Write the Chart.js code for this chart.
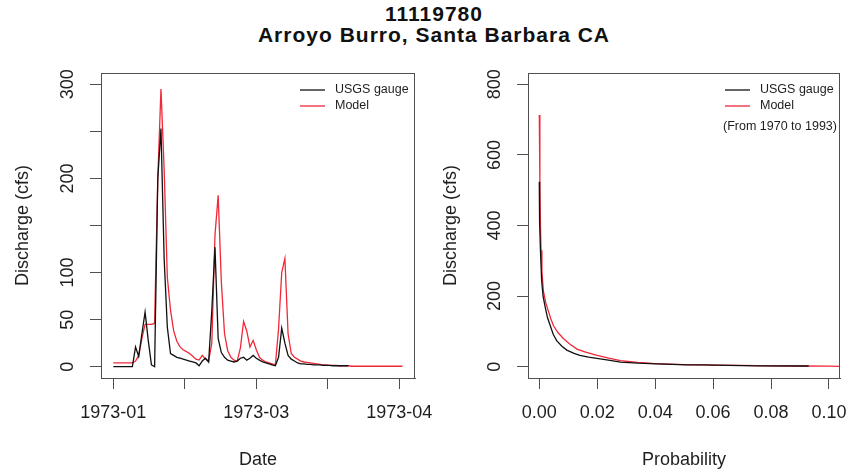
<!DOCTYPE html>
<html>
<head>
<meta charset="utf-8">
<script src="https://cdn.jsdelivr.net/npm/chart.js@4.4.0/dist/chart.umd.min.js"></script>
<style>
  body { margin: 0; background: #fff; width: 851px; height: 475px; overflow: hidden; position: relative; font-family: 'Liberation Sans', Arial, sans-serif; }
  .titulo { position: absolute; left: 0; width: 868px; text-align: center; font-weight: bold; font-size: 21px; line-height: 21px; letter-spacing: 1px; color: #111; }
  canvas { position: absolute; top: 60px; }
</style>
</head>
<body>
<div class="titulo" style="top:3px">11119780</div>
<div class="titulo" style="top:24px">Arroyo Burro, Santa Barbara CA</div>
<canvas id="myChart" width="445" height="415" style="left:0"></canvas>
<canvas id="myChart2" width="426" height="415" style="left:425px"></canvas>
<script>
// Dados

// vazão diária a partir de 1973-01-01 (dia 0)
const gaugeDaily = [0, 0, 0, 0, 0, 0, 0, 21, 11, 35, 58, 28, 2, 0, 200, 253, 115, 42, 14, 12,
  10, 9, 8, 7, 6, 5, 4, 1, 6, 9, 5, 60, 127, 30, 15, 10, 7, 6, 5, 6,
  9, 10, 7, 9, 12, 9, 7, 5, 4, 3, 2, 1, 10, 41, 25, 12, 8, 6, 4, 3,
  3, 2.5, 2.5, 2, 2, 2, 1.5, 1.5, 1.5, 1, 1, 1, 1, 1, 1];
const modelDaily = [4, 4, 4, 4, 4, 4, 4, 6, 12, 30, 45, 45, 45, 46, 200, 295, 210, 95, 60, 38,
  27, 21, 18, 16, 14, 11, 8, 7, 12, 8, 6, 25, 140, 182, 90, 35, 17, 10, 7, 6,
  20, 48, 38, 21, 28, 18, 10, 7, 5, 4, 3, 2, 40, 100, 115, 35, 14, 10, 8, 6,
  5, 4.5, 4, 3.5, 3, 2.5, 2, 2, 1.5, 1.5, 1.5, 1, 1, 1, 1, 0.5, 0.5, 0.5, 0.5, 0.5,
  0.5, 0.5, 0.5, 0.5, 0.5, 0.5, 0.5, 0.5, 0.5, 0.5, 0.5, 0.5];
const dateTicks = [0, 22.5, 45, 67.5, 90];
const dateTickLabels = ['1973-01', '', '1973-03', '', '1973-04'];
const qTicksLeft = [0, 50, 100, 150, 200, 250, 300];
const qTickLabelsLeft = ['0', '50', '100', '', '200', '', '300'];

// curva de permanência (1970 a 1993)
const probGauge = [0, 0.0001, 0.0004, 0.0008, 0.0013, 0.002, 0.0028, 0.0037, 0.0048, 0.006, 0.0078, 0.0095,
  0.012, 0.014, 0.017, 0.021, 0.025, 0.028, 0.034, 0.0405, 0.051, 0.057, 0.065, 0.075, 0.093];
const qGauge = [524, 411, 330, 246, 200, 170, 140, 118, 92, 74, 58, 47,
  38, 32, 27, 22, 17, 13, 10, 8, 5, 5, 4, 2.5, 2];
const probModel = [0, 0.0002, 0.0004, 0.0006, 0.0009, 0.0014, 0.0022, 0.0031, 0.004, 0.0049, 0.0065, 0.0083, 0.0105,
  0.013, 0.016, 0.02, 0.024, 0.028, 0.034, 0.04, 0.05, 0.06, 0.07, 0.08, 0.09, 0.1, 0.104];
const qModel = [713, 520, 400, 330, 270, 215, 182, 158, 135, 116, 96, 80, 64,
  50, 41, 32, 24, 17, 12, 9, 6, 4.5, 3.5, 2.5, 2, 1.5, 1];
const probTicks = [0, 0.02, 0.04, 0.06, 0.08, 0.1];
const probTickLabels = ['0.00', '0.02', '0.04', '0.06', '0.08', '0.10'];
const qTicksRight = [0, 200, 400, 600, 800];
const qTickLabelsRight = ['0', '200', '400', '600', '800'];

const FONT = "'Liberation Sans', Arial, sans-serif";
const TEXT = '#1e1e1e';
const AXIS = '#505050';

// moldura + legenda estilo R
const rStyle = {
  id: 'rStyle',
  afterDatasetsDraw(chart, args, opts) {
    const {ctx, chartArea: a} = chart;
    ctx.save();
    ctx.strokeStyle = AXIS;
    ctx.lineWidth = 1;
    ctx.strokeRect(a.left + 0.5, a.top + 0.5, a.width - 1, a.height);
    ctx.font = '12.5px ' + FONT;
    ctx.textBaseline = 'middle';
    chart.data.datasets.forEach((ds, i) => {
      const y = a.top + 17 + i * 16;
      ctx.strokeStyle = ds.borderColor;
      ctx.lineWidth = 1.3;
      ctx.beginPath();
      ctx.moveTo(a.right - 115, y);
      ctx.lineTo(a.right - 90, y);
      ctx.stroke();
      ctx.fillStyle = TEXT;
      ctx.textAlign = 'left';
      ctx.fillText(ds.label, a.right - 80, y);
    });
    if (opts.note) {
      ctx.textAlign = 'center';
      ctx.fillText(opts.note, a.right - 60, a.top + 54);
    }
    ctx.restore();
  }
};

function xAxis(min, max, ticks, labels, title, height) {
  return {
    type: 'linear', min: min, max: max,
    afterBuildTicks: s => { s.ticks = ticks.map(v => ({value: v})); },
    afterFit: s => { s.height = height; s.paddingLeft = 0; s.paddingRight = 0; },
    grid: { drawOnChartArea: false, drawTicks: true, tickLength: 11, color: AXIS },
    border: { display: true, color: AXIS },
    ticks: {
      autoSkip: false, maxRotation: 0, padding: 13, color: TEXT,
      font: { family: FONT, size: 18 },
      callback: (v, i) => labels[i]
    },
    title: { display: true, text: title, color: TEXT, font: { family: FONT, size: 18 }, padding: { top: 0, bottom: 4 } }
  };
}

function yAxis(min, max, ticks, labels, width, titlePad) {
  return {
    type: 'linear', min: min, max: max,
    afterBuildTicks: s => { s.ticks = ticks.map(v => ({value: v})); },
    afterFit: s => { s.width = width; s.paddingTop = 0; s.paddingBottom = 0; },
    grid: { drawOnChartArea: false, drawTicks: true, tickLength: 11, color: AXIS },
    border: { display: true, color: AXIS },
    ticks: {
      autoSkip: false, minRotation: 90, maxRotation: 90, crossAlign: 'center', padding: 7, color: TEXT,
      font: { family: FONT, size: 18 },
      callback: (v, i) => labels[i]
    },
    title: { display: true, text: 'Discharge (cfs)', color: TEXT, font: { family: FONT, size: 18 }, padding: { top: titlePad, bottom: 0 } }
  };
}

const config = {
  type: 'line',
  data: {
    datasets: [
      { label: 'USGS gauge', borderColor: '#111111', borderWidth: 1.3,
        data: gaugeDaily.map((q, d) => ({x: d, y: q})) },
      { label: 'Model', borderColor: '#f02838', borderWidth: 1.3,
        data: modelDaily.map((q, d) => ({x: d, y: q})) }
    ]},
  options: {
    responsive: false,
    animation: false,
    layout: { padding: { left: 0, right: 30, top: 13, bottom: 0 } },
    elements: { point: { radius: 0 }, line: { tension: 0 } },
    plugins: {
      legend: { display: false },
      tooltip: { enabled: false },
      rStyle: {}
    },
    scales: {
      x: xAxis(-3.87, 94.94, dateTicks, dateTickLabels, 'Date', 97),
      y: yAxis(-12, 312, qTicksLeft, qTickLabelsLeft, 101, 12)
    }
  },
  plugins: [rStyle]
};

const ctx = document.getElementById('myChart');
const myChart = new Chart(ctx, config);

const configGraph2 = {
  type: 'line',
  data: {
    datasets: [
      { label: 'USGS gauge', borderColor: '#111111', borderWidth: 1.3,
        data: probGauge.map((p, i) => ({x: p, y: qGauge[i]})) },
      { label: 'Model', borderColor: '#f02838', borderWidth: 1.3,
        data: probModel.map((p, i) => ({x: p, y: qModel[i]})) }
    ]},
  options: {
    responsive: false,
    animation: false,
    layout: { padding: { left: 0, right: 11, top: 13, bottom: 0 } },
    elements: { point: { radius: 0 }, line: { tension: 0 } },
    plugins: {
      legend: { display: false },
      tooltip: { enabled: false },
      rStyle: { note: '(From 1970 to 1993)' }
    },
    scales: {
      x: xAxis(-0.0039, 0.1038, probTicks, probTickLabels, 'Probability', 97),
      y: yAxis(-32, 832, qTicksRight, qTickLabelsRight, 103, 15)
    }
  },
  plugins: [rStyle]
};

const ctx2 = document.getElementById('myChart2');
const myChart2 = new Chart(ctx2, configGraph2);
</script>
</body>
</html>
